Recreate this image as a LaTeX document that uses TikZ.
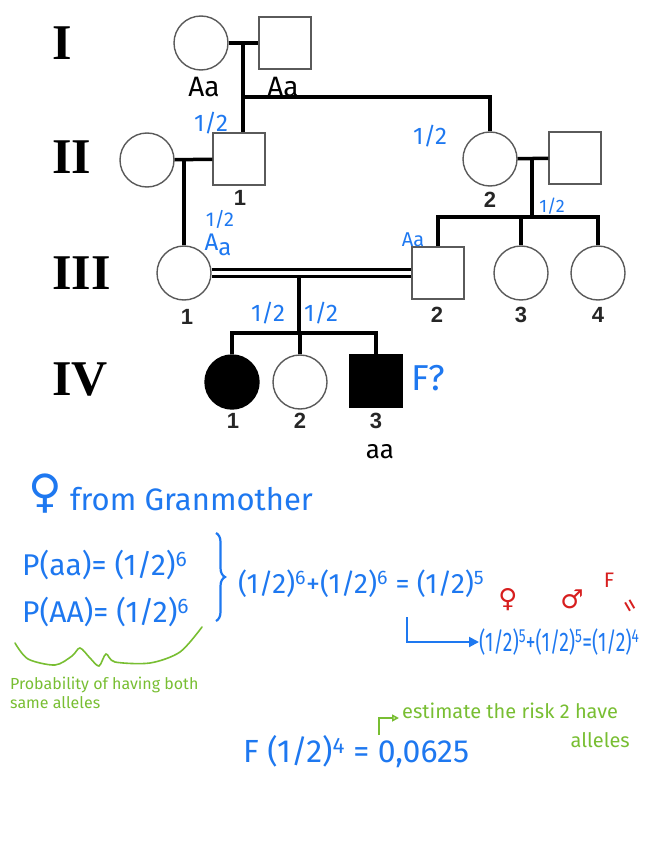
\documentclass[tikz,border=0pt]{standalone}
\usepackage{fontspec}
\setmainfont{Liberation Serif}
\newfontfamily\handfont{Fira Sans}
\newfontfamily\numfont{Liberation Sans}
\newfontfamily\symfont{DejaVu Sans}
\usetikzlibrary{arrows.meta,positioning,decorations.pathreplacing}
\definecolor{pedgray}{HTML}{5A5A5A}
\definecolor{noteblue}{HTML}{1E78F0}
\definecolor{notegreen}{HTML}{78BE32}
\definecolor{notered}{HTML}{D71E1E}

\begin{document}
\begin{tikzpicture}[x=1pt,y=-1pt,
  female/.style={circle,draw=pedgray,line width=1.4pt,fill=white,minimum size=54pt,inner sep=0pt},
  male/.style={rectangle,draw=pedgray,line width=1.4pt,fill=white,minimum size=52pt,inner sep=0pt},
  affected/.style={fill=black,draw=black},
  link/.style={line width=3.5pt,black},
  gen/.style={anchor=west,inner sep=0pt,font=\bfseries\fontsize{50}{50}\selectfont},
  num/.style={inner sep=0pt,text=black!85,font=\numfont\bfseries\fontsize{22}{22}\selectfont},
  hand/.style={inner sep=0pt,text=noteblue,font=\handfont\fontsize{24}{26}\selectfont},
  note/.style={inner sep=0pt,anchor=west,text=noteblue,font=\handfont\fontsize{30}{32}\selectfont},
  greennote/.style={inner sep=0pt,text=notegreen,font=\handfont\fontsize{16}{18}\selectfont}
]
\useasboundingbox (0,0) rectangle (656,848);

\node[gen] (genI) at (52,43) {I};
\node[gen] (genII) at (52,157) {II};
\node[gen] (genIII) at (52,273) {III};
\node[gen] (genIV) at (52,380) {IV};

\node[female] (Igm) at (201,43) {};
\node[male] (Igf) at (285,43) {};
\node[female] (IIa) at (147,160) {};
\node[male] (II1) at (239,159) {};
\node[female] (II2) at (490,159) {};
\node[male] (IIb) at (575,158) {};
\node[female] (III1) at (184,273) {};
\node[male] (III2) at (438,273) {};
\node[female] (III3) at (521,273) {};
\node[female] (III4) at (598,273) {};
\node[female,affected] (IV1) at (232,382) {};
\node[female] (IV2) at (300,382) {};
\node[male,affected] (IV3) at (376,381) {};

\coordinate (Imid) at (243,43);
\coordinate (Isib) at (243,97);
\coordinate (IImid) at (184,159);
\coordinate (IIrmid) at (532,159);
\coordinate (IIrsib) at (532,217);
\coordinate (IIImid) at (299,277);
\coordinate (IIIsib) at (299,333);

\draw[link] (Igm) -- (Igf);
\draw[link] (Imid) -- (Imid |- II1.north);
\draw[link] (Isib) -| (II2.north);
\draw[link] (IIa) -- (II1);
\draw[link] (IImid) -- (III1.north);
\draw[link] (II2) -- (IIb);
\draw[link] (IIrmid) -- (IIrsib);
\draw[link] (III2.north) |- (IIrsib) -| (III4.north);
\draw[link] (III3.north) -- (III3.north |- IIrsib);
\draw[link,line width=3pt,double=white,double distance=3.5pt] (III1) -- (III2);
\draw[link] (IIImid) -- (IIIsib);
\draw[link] (IV1.north) |- (IIIsib) -| (IV3.north);
\draw[link] (IV2.north) -- (IV2.north |- IIIsib);

\node[num] (nII1) at (240,198) {1};
\node[num] (nII2) at (490,200) {2};
\node[num] (nIII1) at (187,317) {1};
\node[num] (nIII2) at (437,315) {2};
\node[num] (nIII3) at (521,315) {3};
\node[num] (nIII4) at (598,315) {4};
\node[num] (nIV1) at (233,421) {1};
\node[num] (nIV2) at (300,421) {2};
\node[num] (nIV3) at (376,421) {3};

\node[hand,text=black,font=\handfont\fontsize{28}{28}\selectfont] (gtIgm) at (204,87) {Aa};
\node[hand,text=black,font=\handfont\fontsize{28}{28}\selectfont] (gtIgf) at (283,87) {Aa};
\node[hand] (pII1) at (211,123) {1/2};
\node[hand] (pII2) at (430,136) {1/2};
\node[hand,font=\handfont\fontsize{18}{20}\selectfont] (pIIr) at (552,206) {1/2};
\node[hand,font=\handfont\fontsize{20}{22}\selectfont] (pIII1) at (220,219) {1/2};
\node[hand] (gtIII1) at (218,245) {A\raisebox{-5pt}{a}};
\node[hand,font=\handfont\fontsize{20}{22}\selectfont] (gtIII2) at (413,240) {Aa};
\node[hand] (pIVa) at (268,313) {1/2};
\node[hand] (pIVb) at (321,313) {1/2};
\node[hand,anchor=west,font=\handfont\fontsize{36}{36}\selectfont] (Fq) at (411,378) {F?};
\node[hand,text=black,font=\handfont\fontsize{26}{26}\selectfont] (gtIV3) at (380,452) {aa};

\node[hand,font=\symfont\fontsize{46}{46}\selectfont] (fem) at (45,494) {♀};
\node[note,anchor=base west,font=\handfont\fontsize{31}{33}\selectfont] (gran) at (70,510) {from Granmother};
\node[note] (Paa) at (22,565) {P(aa)= (1/2)\textsuperscript{6}};
\node[note] (PAA) at (22,612) {P(AA)= (1/2)\textsuperscript{6}};
\draw[noteblue,line width=2.2pt,decorate,decoration={brace,amplitude=9pt}] (216,533) -- (216,621);
\node[note,font=\handfont\fontsize{28}{30}\selectfont] (sum1) at (238,584) {(1/2)\textsuperscript{6}+(1/2)\textsuperscript{6} = (1/2)\textsuperscript{5}};
\coordinate (arrs) at (407,617);
\node[note,font=\handfont\fontsize{27}{29}\selectfont] (sum2) at (479,642) {\scalebox{0.72}[1]{(1/2)\textsuperscript{5}+(1/2)\textsuperscript{5}=(1/2)\textsuperscript{4}}};
\draw[noteblue,line width=2pt,-{Triangle[length=10pt,width=10pt]}] (arrs) |- (sum2.west);
\node[hand,text=notered,font=\symfont\fontsize{26}{26}\selectfont] (sfem) at (508,600) {♀};
\node[hand,text=notered,font=\symfont\fontsize{26}{26}\selectfont] (smal) at (572,599) {♂};
\node[hand,text=notered,font=\handfont\fontsize{21}{21}\selectfont] (sF) at (609,580) {F};
\node[hand,text=notered,rotate=-60,font=\handfont\fontsize{26}{26}\selectfont] (seq) at (628,607) {=};

\draw[notegreen,line width=1.6pt,line cap=round] plot[smooth,tension=0.5] coordinates {(15,643) (28,659) (55,665) (72,656) (80,648) (90,658) (99,666) (106,654) (115,662) (150,663) (180,652) (202,627)};
\node[greennote,anchor=west] (prob1) at (10,685) {Probability of having both};
\node[greennote,anchor=west] (prob2) at (10,703) {same alleles};

\coordinate (gha) at (379,735);
\coordinate (ghb) at (399,718);
\draw[notegreen,line width=1.6pt,-{Triangle[open,length=7pt,width=7pt]}] (gha) |- (ghb);
\node[greennote,anchor=west,font=\handfont\fontsize{20}{22}\selectfont] (risk1) at (402,711) {estimate the risk 2 have};
\node[greennote,anchor=east,font=\handfont\fontsize{20}{22}\selectfont] (risk2) at (630,740) {alleles};

\node[note,font=\handfont\fontsize{32}{34}\selectfont] (Fval) at (243,752) {F (1/2)\textsuperscript{4} = 0,0625};
\end{tikzpicture}
\end{document}
